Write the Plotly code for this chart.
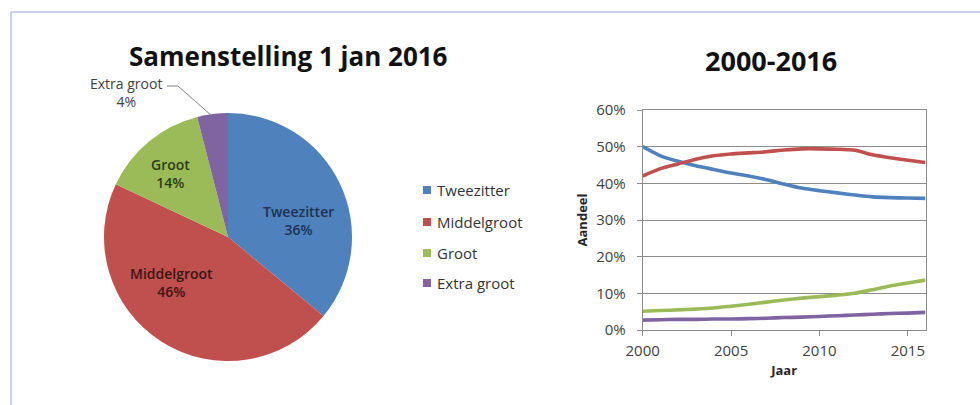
import plotly.graph_objects as go

# Composition of the fleet on 1 Jan 2016
categories = ["Tweezitter", "Middelgroot", "Groot", "Extra groot"]
shares_2016 = [36, 46, 14, 4]
colors = ["#4F81BD", "#C0504D", "#9BBB59", "#8064A2"]
label_colors = ["#1C3352", "#3B1514", "#2B3D12", "#404040"]

# Share per size class, 2000-2016 (percent)
years = list(range(2000, 2017))
tweezitter = [50.0, 47.5, 46.0, 44.8, 43.8, 42.8, 42.0, 41.0, 39.8, 38.7, 38.0, 37.4, 36.8, 36.3, 36.1, 36.0, 35.9]
middelgroot = [42.0, 44.0, 45.3, 46.6, 47.5, 48.0, 48.3, 48.6, 49.1, 49.4, 49.4, 49.3, 49.0, 47.8, 47.0, 46.3, 45.7]
groot = [5.1, 5.3, 5.5, 5.7, 6.0, 6.5, 7.0, 7.6, 8.2, 8.7, 9.1, 9.5, 10.0, 11.0, 12.0, 12.8, 13.6]
extra_groot = [2.7, 2.8, 2.9, 2.9, 3.0, 3.0, 3.1, 3.2, 3.4, 3.5, 3.7, 3.9, 4.1, 4.3, 4.5, 4.6, 4.8]
series = [tweezitter, middelgroot, groot, extra_groot]

y_ticks = [0, 10, 20, 30, 40, 50, 60]
x_ticks = [2000, 2005, 2010, 2015]

FONT = "Open Sans"
W, H = 980, 405

def px(x):
    return x / W

def py(y):
    return 1 - y / H

fig = go.Figure()

cx, cy, r = 228, 237, 124
fig.add_trace(go.Pie(
    labels=categories,
    values=shares_2016,
    sort=False,
    direction="clockwise",
    rotation=0,
    marker=dict(colors=colors, line=dict(width=0)),
    textinfo="none",
    domain=dict(x=[px(cx - r), px(cx + r)], y=[py(cy + r), py(cy - r)]),
    automargin=False,
    showlegend=False,
    hoverinfo="label+percent",
))

# Line chart
for name, vals, col in zip(categories, series, colors):
    fig.add_trace(go.Scatter(
        x=years, y=vals, mode="lines", name=name,
        line=dict(color=col, width=3.6, shape="spline", smoothing=0.6),
        xaxis="x", yaxis="y", showlegend=False,
    ))

fig.update_layout(
    template="none",
    width=W, height=H,
    margin=dict(l=0, r=0, t=0, b=0, autoexpand=False),
    paper_bgcolor="white",
    plot_bgcolor="white",
    font=dict(family=FONT, color="#404040"),
    xaxis=dict(
        domain=[px(642.7), px(925.5)], range=[2000, 2016],
        tickvals=x_ticks, ticks="outside", ticklen=5, tickcolor="#8c8c8c",
        ticklabelstandoff=2,
        showgrid=False, zeroline=False, automargin=False,
        showline=True, linecolor="#8c8c8c", linewidth=1, mirror=True,
        tickfont=dict(family=FONT, size=15, color="#404040"),
        title=dict(text="<b>Jaar</b>", font=dict(family=FONT, size=13, color="#262626"), standoff=6),
        anchor="y",
    ),
    yaxis=dict(
        domain=[py(330), py(110)], range=[0, 60],
        tickvals=y_ticks, ticktext=[f"{v}%" for v in y_ticks],
        ticks="outside", ticklen=5, tickcolor="#8c8c8c",
        ticklabelstandoff=8,
        showgrid=True, gridcolor="#8c8c8c", gridwidth=1, zeroline=False, automargin=False,
        showline=True, linecolor="#8c8c8c", linewidth=1, mirror=True,
        tickfont=dict(family=FONT, size=15, color="#404040"),
        title=dict(text="<b>Aandeel</b>", font=dict(family=FONT, size=13, color="#262626"), standoff=5),
        anchor="x",
    ),
)

annotations = [
    dict(text="<b>Samenstelling 1 jan 2016</b>", x=px(288), y=py(56), xref="paper", yref="paper",
         xanchor="center", yanchor="middle",
         showarrow=False, font=dict(family=FONT, size=26, color="#111")),
    dict(text="<b>2000-2016</b>", x=px(771), y=py(60), xref="paper", yref="paper",
         xanchor="center", yanchor="middle",
         showarrow=False, font=dict(family=FONT, size=27, color="#111")),
    dict(text=f"{categories[3]}<br>{shares_2016[3]}%", x=px(126), y=py(92), xref="paper", yref="paper",
         xanchor="center", yanchor="middle",
         showarrow=False, align="center", font=dict(family=FONT, size=14, color="#404040")),
]

# Slice labels inside the three large slices
inside_pos = [(298, 220), (171, 282), (170, 173)]
for name, val, col, (lx, ly) in zip(categories[:3], shares_2016[:3], label_colors[:3], inside_pos):
    annotations.append(dict(text=f"{name}<br>{val}%", x=px(lx), y=py(ly), xref="paper", yref="paper",
                            xanchor="center", yanchor="middle", align="center", showarrow=False,
                            font=dict(family=FONT, size=14, color=col, weight=600)))

shapes = [
    # outer frame (top and left edges)
    dict(type="line", xref="paper", yref="paper", x0=px(11), x1=1, y0=py(12), y1=py(12),
         line=dict(color="#C8D3EA", width=2)),
    dict(type="line", xref="paper", yref="paper", x0=px(11), x1=px(11), y0=py(12), y1=0,
         line=dict(color="#C8D3EA", width=2)),
    # leader line to the smallest slice
    dict(type="path", xref="paper", yref="paper",
         path=f"M {px(167)} {py(86)} L {px(178)} {py(86)} L {px(212)} {py(116)}",
         line=dict(color="#7f7f7f", width=1)),
]

# Legend for the pie
legend_rows = [190, 222, 253, 283]
for name, col, yy in zip(categories, colors, legend_rows):
    shapes.append(dict(type="rect", xref="paper", yref="paper",
                       x0=px(423), x1=px(431), y0=py(yy + 4), y1=py(yy - 4),
                       fillcolor=col, line=dict(width=0)))
    annotations.append(dict(text=name, x=px(435), y=py(yy), xref="paper", yref="paper",
                            xanchor="left", yanchor="middle", showarrow=False,
                            font=dict(family=FONT, size=15, color="#333")))

fig.update_layout(annotations=annotations, shapes=shapes)

fig.write_html("out.html")
